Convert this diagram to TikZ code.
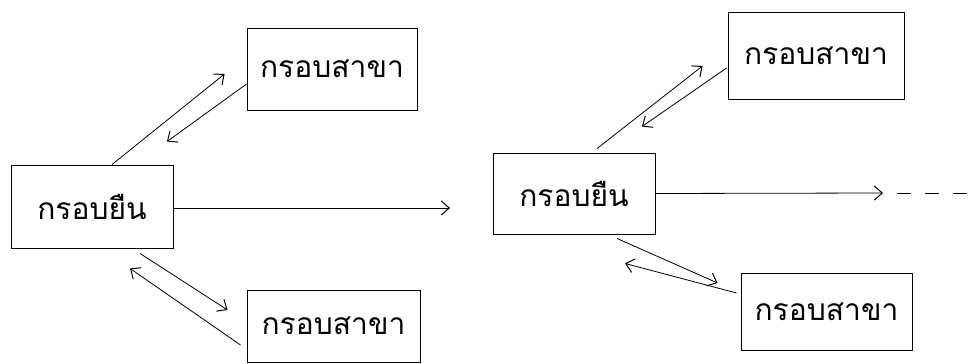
\documentclass[tikz,border=0pt]{standalone}
\usepackage{fontspec}
\newfontfamily\thaifont[Script=Thai]{Loma}
\usetikzlibrary{arrows.meta}
\begin{document}
\begin{tikzpicture}[x=1pt,y=-1pt,
  box/.style={draw,line width=0.9pt,inner sep=0pt,font=\thaifont\fontsize{30}{34}\selectfont},
  arr/.style={line width=0.8pt,-{Straight Barb[length=8pt,width=14pt,line width=1pt]}},
  ln/.style={line width=0.8pt}]
\useasboundingbox (0,0) rectangle (975,364);
\node[box,minimum width=162pt,minimum height=83pt] (s1) at (92,206.5) {กรอบยืน};
\node[box,minimum width=170pt,minimum height=82pt] (b1) at (332,69) {กรอบสาขา};
\node[box,minimum width=173pt,minimum height=72pt] (b2) at (333.5,326) {กรอบสาขา};
\node[box,minimum width=162pt,minimum height=81pt] (s2) at (574,193.5) {กรอบยืน};
\node[box,minimum width=176pt,minimum height=87pt] (b3) at (816,55.5) {กรอบสาขา};
\node[box,minimum width=171pt,minimum height=77pt] (b4) at (826.5,311.5) {กรอบสาขา};
\coordinate (e1) at (450,208);
\coordinate (e2) at (883,193);
\coordinate (d1) at (897,193);
\coordinate (d2) at (975,193);
% main flow
\draw[arr] (s1.east |- e1) -- (e1);
\draw[arr] (s2.east) -- (e2);
\draw[ln,dash pattern=on 14pt off 14pt] (d1) -- (d2);
% left top pair
\draw[arr] ([xshift=20pt]s1.north) -- ([xshift=-22pt,yshift=-5pt]b1.west);
\draw[arr] ([yshift=-15pt]b1.west) -- ([xshift=75pt,yshift=23pt]s1.north);
% left bottom pair
\draw[arr] ([xshift=48pt,yshift=-5pt]s1.south) -- ([xshift=-19pt,yshift=16pt]b2.west);
\draw[arr] ([xshift=-6pt,yshift=-19pt]b2.west) -- ([xshift=38pt,yshift=-20pt]s1.south);
% right top pair
\draw[arr] ([xshift=23pt,yshift=4pt]s2.north) -- ([xshift=-25pt,yshift=-10.5pt]b3.west);
\draw[arr] ([xshift=-1pt,yshift=-12.5pt]b3.west) -- ([xshift=68pt,yshift=26pt]s2.north);
% right bottom pair
\draw[arr] ([xshift=43pt,yshift=-4pt]s2.south) -- ([xshift=-23pt,yshift=28.5pt]b4.west);
\draw[arr] ([xshift=-4pt,yshift=18.5pt]b4.west) -- ([xshift=51pt,yshift=-29pt]s2.south);
\end{tikzpicture}
\end{document}
